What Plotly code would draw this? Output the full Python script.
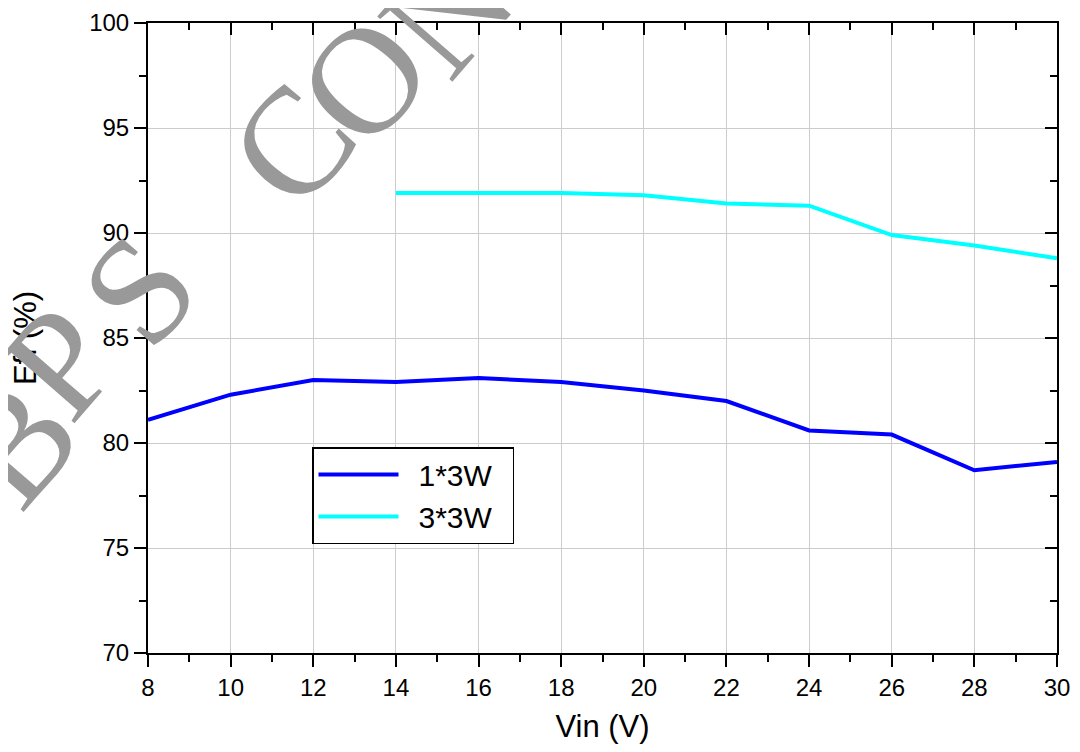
import plotly.graph_objects as go

# ---- data ----
vin_1x3w = [8, 10, 12, 14, 16, 18, 20, 22, 24, 26, 28, 30]
eff_1x3w = [81.1, 82.3, 83.0, 82.9, 83.1, 82.9, 82.5, 82.0, 80.6, 80.4, 78.7, 79.1]
vin_3x3w = [14, 16, 18, 20, 22, 24, 26, 28, 30]
eff_3x3w = [91.9, 91.9, 91.9, 91.8, 91.4, 91.3, 89.9, 89.4, 88.8]
series_names = ["1*3W", "3*3W"]
x_tick_vals = [8, 10, 12, 14, 16, 18, 20, 22, 24, 26, 28, 30]
y_tick_vals = [70, 75, 80, 85, 90, 95, 100]
x_title = "Vin (V)"
y_title = "Eff (%)"
watermark_letters = ["B", "P", "S", "C", "O", "N", "F"]

# ---- layout constants (page pixels) ----
PAGE_W, PAGE_H = 1080, 752
OFF = 8                      # default body margin of the html page
W, H = PAGE_W - 2 * OFF, PAGE_H - 2 * OFF
L, R, T, B = 148, 1057, 23, 653   # plot area in page pixels
PW, PH = R - L, B - T
wm_px = [(15, 444), (60, 362), (139, 290), (292, 145), (364, 80), (447, 10), (502, -68)]
FONT = "Liberation Sans, Arial, sans-serif"
SP = "\u2002"

fig = go.Figure()
fig.add_trace(go.Scatter(x=vin_1x3w, y=eff_1x3w, mode="lines", name=SP + series_names[0] + SP,
                         line=dict(color="#0000FF", width=4)))
fig.add_trace(go.Scatter(x=vin_3x3w, y=eff_3x3w, mode="lines", name=SP + series_names[1] + SP,
                         line=dict(color="#00FFFF", width=4)))
# invisible trace so the mirrored top/right axes are drawn
fig.add_trace(go.Scatter(x=vin_1x3w, y=eff_1x3w, xaxis="x2", yaxis="y2", mode="lines",
                         opacity=0, showlegend=False, hoverinfo="skip"))

axis_common = dict(showline=True, linecolor="black", linewidth=2, zeroline=False,
                   tickcolor="black", tickwidth=2, automargin=False)
fig.update_layout(
    width=W, height=H, autosize=False,
    paper_bgcolor="white", plot_bgcolor="white",
    margin=dict(l=L - OFF, r=(W + OFF) - R, t=T - OFF, b=(H + OFF) - B, pad=0, autoexpand=False),
    font=dict(family=FONT, color="black"),
    xaxis=dict(range=[8, 30], tickvals=x_tick_vals, ticks="outside", ticklen=12,
               minor=dict(dtick=1, ticks="outside", ticklen=7, tickwidth=2, tickcolor="black", showgrid=False),
               showgrid=True, gridcolor="#CCCCCC", gridwidth=1,
               tickfont=dict(size=24), title=dict(text=x_title, font=dict(size=31), standoff=18),
               **axis_common),
    yaxis=dict(range=[70, 100], tickvals=y_tick_vals, ticks="outside", ticklen=12,
               minor=dict(dtick=2.5, ticks="outside", ticklen=7, tickwidth=2, tickcolor="black", showgrid=False),
               showgrid=True, gridcolor="#CCCCCC", gridwidth=1,
               tickfont=dict(size=24), title=dict(text=y_title, font=dict(size=31), standoff=44),
               **axis_common),
    xaxis2=dict(range=[8, 30], overlaying="x", side="top", tickvals=x_tick_vals, ticks="inside",
                ticklen=12, showticklabels=False, showgrid=False,
                minor=dict(dtick=1, ticks="inside", ticklen=7, tickwidth=2, tickcolor="black"),
                **axis_common),
    yaxis2=dict(range=[70, 100], overlaying="y", side="right", tickvals=y_tick_vals, ticks="inside",
                ticklen=12, showticklabels=False, showgrid=False,
                minor=dict(dtick=2.5, ticks="inside", ticklen=7, tickwidth=2, tickcolor="black"),
                **axis_common),
    legend=dict(x=(312 - L) / PW, y=(B - 495.5) / PH, xanchor="left", yanchor="middle",
                bgcolor="white", bordercolor="black", borderwidth=1.5,
                font=dict(size=30), itemwidth=80, tracegroupgap=0),
    showlegend=True,
)

for ch, (px, py) in zip(watermark_letters, wm_px):
    fig.add_annotation(text=ch, xref="paper", yref="paper",
                       x=(px - L) / PW, y=(B - py) / PH, xanchor="center", yanchor="middle",
                       showarrow=False, textangle=-49,
                       font=dict(family="Liberation Serif, Times New Roman, serif", size=152, color="#999999"))

fig.write_html("out.html")
